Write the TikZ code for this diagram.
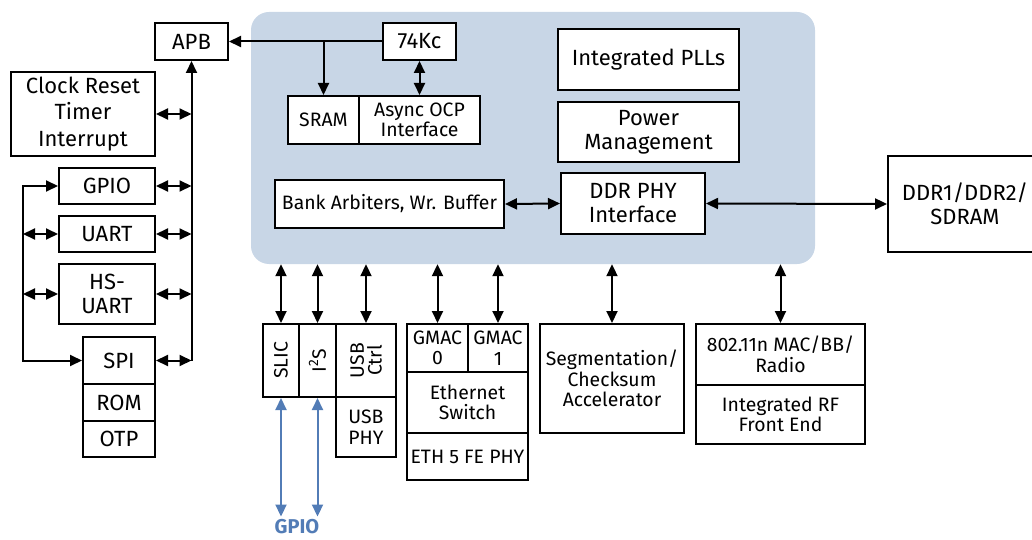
\documentclass[tikz,border=0pt]{standalone}
\usepackage{fontspec}
\setmainfont{Fira Sans}
\usetikzlibrary{arrows.meta,calc}

\definecolor{socblue}{RGB}{200,214,230}
\definecolor{gpioblue}{RGB}{82,124,182}

\tikzset{
  blk/.style={draw,line width=2pt,fill=white,inner sep=1pt,align=center,
    font=\fontsize{22}{24}\selectfont},
  sblk/.style={blk,font=\fontsize{19.4}{20.5}\selectfont},
  dbl/.style={line width=2pt,{Triangle[length=12pt,width=11pt]}-{Triangle[length=12pt,width=11pt]}},
  one/.style={line width=2pt,-{Triangle[length=12pt,width=11pt]}},
}

\begin{document}
\begin{tikzpicture}[x=1pt,y=1pt,yscale=-1]
    \useasboundingbox (0,0) rectangle (1032,540);
    \clip (0,0) rectangle (1032,540);

    %SoC background
    \node[fill=socblue,rounded corners=18pt,minimum width=564,minimum height=252] (soc) at (533,138) {};

    %Blocks inside the SoC
    \node[blk,minimum width=73,minimum height=37] (kc) at (419.5,41.5) {74Kc};
    \node[sblk,minimum width=71,minimum height=48] (sram) at (323.5,120) {SRAM};
    \node[sblk,minimum width=121,minimum height=48] (ocp) at (419.5,120) {Async OCP\\Interface};
    \node[sblk,minimum width=229,minimum height=48] (bank) at (389.5,204) {Bank Arbiters, Wr. Buffer};
    \node[blk,minimum width=181,minimum height=61] (plls) at (648.5,59.5) {Integrated PLLs};
    \node[blk,minimum width=181,minimum height=60] (pwr) at (648.5,132) {Power\\Management};
    \node[blk,minimum width=144,minimum height=61] (ddrphy) at (633,203.5) {DDR PHY\\Interface};

    %External memory
    \node[blk,minimum width=154,minimum height=96] (sdram) at (965,204) {DDR1/DDR2/\\SDRAM};

    %APB side
    \node[blk,minimum width=73,minimum height=37] (apb) at (191.5,41.5) {APB};
    \node[blk,minimum width=144,minimum height=84,font=\fontsize{22}{26.5}\selectfont] (clk) at (83,114) {Clock Reset\\Timer\\Interrupt};
    \node[blk,minimum width=96,minimum height=36] (gpio) at (107,186) {GPIO};
    \node[blk,minimum width=96,minimum height=36] (uart) at (107,234) {UART};
    \node[blk,minimum width=96,minimum height=60] (hsuart) at (107,294) {HS-\\UART};
    \node[blk,minimum width=72,minimum height=47] (spi) at (119,360.5) {SPI};
    \node[blk,minimum width=72,minimum height=37] (rom) at (119,402.5) {ROM};
    \node[blk,minimum width=72,minimum height=36] (otp) at (119,439) {OTP};

    %Peripherals below the SoC
    \node[sblk,minimum width=36,minimum height=73] (slic) at (281,360.5) {\rotatebox{90}{SLIC}};
    \node[sblk,minimum width=37,minimum height=73] (i2s) at (317.5,360.5) {\rotatebox{90}{I\textsuperscript{2}S}};
    \node[sblk,minimum width=60,minimum height=73] (usbctrl) at (366,360.5) {\rotatebox{90}{\shortstack{USB\\Ctrl}}};
    \node[sblk,minimum width=60,minimum height=60] (usbphy) at (366,427) {USB\\PHY};
    \node[sblk,minimum width=61,minimum height=48] (gmac0) at (437.5,348) {GMAC\\0};
    \node[sblk,minimum width=60,minimum height=48] (gmac1) at (498,348) {GMAC\\1};
    \node[sblk,minimum width=121,minimum height=61] (ethsw) at (467.5,402.5) {Ethernet\\Switch};
    \node[sblk,minimum width=121,minimum height=47] (ethphy) at (467.5,456.5) {ETH 5 FE PHY};
    \node[sblk,minimum width=144,minimum height=109] (seg) at (612,378.5) {Segmentation/\\Checksum\\Accelerator};
    \node[sblk,minimum width=169,minimum height=61] (wlan) at (780.5,354.5) {802.11n MAC/BB/\\Radio};
    \node[sblk,minimum width=169,minimum height=59] (rf) at (780.5,414.5) {Integrated RF\\Front End};

    %GPIO label
    \node[text=gpioblue,font=\bfseries\fontsize{20}{22}\selectfont,inner sep=0pt] (gpiolbl) at (297,527) {GPIO};

    %CPU connections
    \draw[one] (kc.west) -- (apb.east);
    \draw[one] (sram.north |- kc.west) -- (sram.north);
    \draw[dbl] (kc.south) -- (ocp.north);
    \draw[dbl] (bank.east) -- (ddrphy.west);
    \draw[dbl] (ddrphy.east) -- (sdram.west);

    %APB bus
    \coordinate (busbot) at (apb.south |- spi.east);
    \draw[one] (busbot) -- (apb.south);
    \foreach \b in {clk,gpio,uart,hsuart,spi}
        \draw[dbl] (\b.east) -- (\b.east -| busbot);

    %GPIO / SPI side bus
    \coordinate (lbus) at (23,186);
    \draw[dbl] (gpio.west) -- (lbus) |- (spi.west);
    \draw[dbl] (uart.west) -- (uart.west -| lbus);
    \draw[dbl] (hsuart.west) -- (hsuart.west -| lbus);

    %Peripheral buses
    \foreach \p in {slic,i2s,usbctrl,gmac0,gmac1,seg,wlan}
        \draw[dbl] (\p.north) -- (\p.north |- soc.south);

    %GPIO muxing
    \draw[dbl,draw=gpioblue,fill=gpioblue] (slic.south) -- ([yshift=-3pt]slic.south |- gpiolbl.north);
    \draw[dbl,draw=gpioblue,fill=gpioblue] (i2s.south) -- ([yshift=-3pt]i2s.south |- gpiolbl.north);

\end{tikzpicture}
\end{document}
